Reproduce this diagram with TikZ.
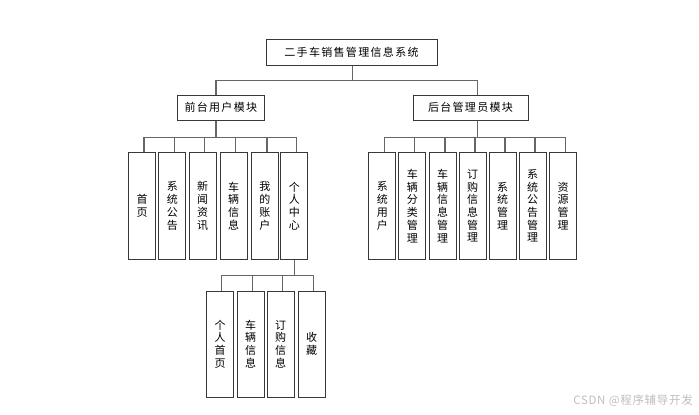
\documentclass[tikz,border=0pt]{standalone}
\usepackage{fontspec}
\setmainfont{Noto Sans CJK SC}
\newfontfamily\hfont[LetterSpace=12]{Noto Sans CJK SC}
\newfontfamily\wfont[LetterSpace=6]{Noto Sans CJK SC}
\begin{document}
\begin{tikzpicture}[x=1pt,y=-1pt,
  box/.style={draw=black!78,line width=1pt,fill=white,inner sep=0pt,align=center},
  vbox/.style={box,minimum width=26.7pt,minimum height=106.3pt,font=\fontsize{11}{12.7}\selectfont},
  hbox/.style={box,minimum height=25pt,font=\fontsize{11}{13}\selectfont\hfont},
  conn/.style={draw=black!60,line width=1.2pt},
  wmark/.style={text=black!25,font=\fontsize{11.5}{13}\selectfont\wfont}]
\fill[white] (0,0) rectangle (699,415);
\useasboundingbox (0,0) rectangle (699,415);

% top
\node[hbox,minimum width=171pt,minimum height=26pt] (top) at (351.5,52) {二手车销售管理信息系统};
\node[hbox,minimum width=87pt] (lm) at (220.8,107.5) {前台用户模块};
\node[hbox,minimum width=115pt] (rm) at (470.5,107.5) {后台管理员模块};

% left children
\node[vbox] (c1) at (142,205.9) {首\\页};
\node[vbox] (c2) at (172.3,205.9) {系\\统\\公\\告};
\node[vbox] (c3) at (202.7,205.9) {新\\闻\\资\\讯};
\node[vbox] (c4) at (233.7,205.9) {车\\辆\\信\\息};
\node[vbox] (c5) at (264.9,205.9) {我\\的\\账\\户};
\node[vbox] (c6) at (294.3,205.9) {个\\人\\中\\心};

% right children
\node[vbox] (r1) at (382.3,205.9) {系\\统\\用\\户};
\node[vbox] (r2) at (412.3,205.9) {车\\辆\\分\\类\\管\\理};
\node[vbox] (r3) at (442.7,205.9) {车\\辆\\信\\息\\管\\理};
\node[vbox] (r4) at (472.7,205.9) {订\\购\\信\\息\\管\\理};
\node[vbox] (r5) at (502.7,205.9) {系\\统\\管\\理};
\node[vbox] (r6) at (532.7,205.9) {系\\统\\公\\告\\管\\理};
\node[vbox] (r7) at (563,205.9) {资\\源\\管\\理};

% bottom children
\node[vbox,minimum height=106pt] (b1) at (220,344) {个\\人\\首\\页};
\node[vbox,minimum height=106pt] (b2) at (250.7,344) {车\\辆\\信\\息};
\node[vbox,minimum height=106pt] (b3) at (280.7,344) {订\\购\\信\\息};
\node[vbox,minimum height=106pt] (b4) at (311.7,344) {收\\藏};

% connectors
\draw[conn] ([xshift=1.2pt]top.south) -- ++(0,15) -| ([xshift=-4.8pt]lm.north);
\draw[conn] ([xshift=1.2pt]top.south) -- ++(0,15) -| ([xshift=7pt]rm.north);
\foreach \c in {c1,c2,c3,c4,c5,c6}
  \draw[conn] ([xshift=-4.8pt]lm.south) -- ++(0,16.7) -| ([xshift=2pt]\c.north);
\foreach \c in {r1,r2,r3,r4,r5,r6,r7}
  \draw[conn] ([xshift=7pt]rm.south) -- ++(0,16.7) -| ([xshift=2.3pt]\c.north);
\foreach \c in {b1,b2,b3,b4}
  \draw[conn] (c6.south) -- ++(0,16) -| ([xshift=1.6pt]\c.north);

% watermark
\node[wmark,anchor=east,inner sep=0pt] (wm) at (693,401) {CSDN @程序辅导开发};
\end{tikzpicture}
\end{document}
